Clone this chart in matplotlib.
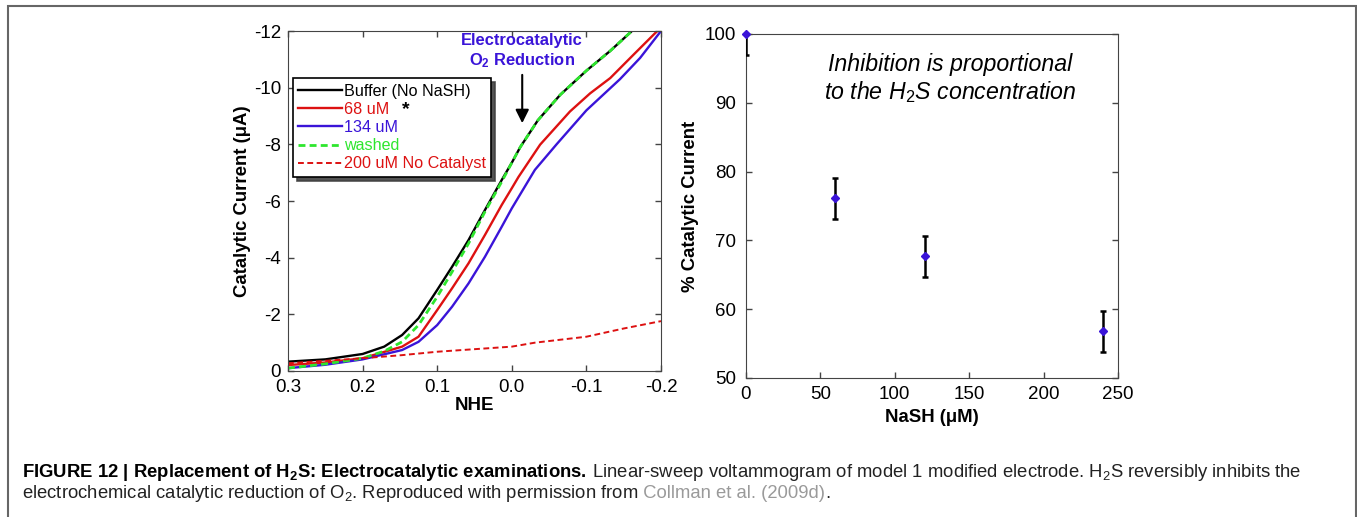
import matplotlib
matplotlib.use("Agg")
import matplotlib.pyplot as plt
from matplotlib.patches import Rectangle

plt.rcParams["font.family"] = ["Liberation Sans", "DejaVu Sans"]
plt.rcParams["axes.unicode_minus"] = False
plt.rcParams["mathtext.fontset"] = "custom"
plt.rcParams["mathtext.rm"] = "Liberation Sans"
plt.rcParams["mathtext.it"] = "Liberation Sans:italic"
plt.rcParams["mathtext.bf"] = "Liberation Sans:bold"

# left panel: linear sweep voltammograms (potential vs NHE, current in uA)
buffer_x = [0.3, 0.25, 0.2, 0.171, 0.147, 0.125, 0.1, 0.08, 0.058, 0.036, 0.0135, 0.0,
            -0.0113, -0.035, -0.065, -0.1, -0.132, -0.161]
buffer_y = [-0.33, -0.41, -0.6, -0.86, -1.27, -1.86, -2.86, -3.68, -4.62, -5.68, -6.74, -7.35,
            -7.9, -8.85, -9.75, -10.6, -11.3, -12.0]

washed_x = buffer_x
washed_y = [-0.1, -0.25, -0.45, -0.7, -1.03, -1.62, -2.62, -3.5, -4.5, -5.62, -6.68, -7.35,
            -7.9, -8.85, -9.75, -10.6, -11.3, -12.0]

uM68_x = [0.3, 0.25, 0.2, 0.147, 0.125, 0.1, 0.08, 0.058, 0.036, 0.0135, 0.0, -0.009,
          -0.038, -0.078, -0.105, -0.132, -0.163, -0.195]
uM68_y = [-0.21, -0.3, -0.45, -0.86, -1.21, -2.15, -2.92, -3.8, -4.8, -5.86, -6.45, -6.85,
          -7.99, -9.16, -9.8, -10.34, -11.16, -12.0]

uM134_x = [0.3, 0.25, 0.2, 0.147, 0.125, 0.1, 0.08, 0.058, 0.036, 0.0135, 0.0, -0.031,
           -0.06, -0.1, -0.145, -0.172, -0.2]
uM134_y = [-0.1, -0.22, -0.41, -0.74, -1.03, -1.62, -2.27, -3.09, -4.03, -5.09, -5.74, -7.1,
           -8.0, -9.2, -10.3, -11.05, -12.0]

nocat_x = [0.3, 0.25, 0.2, 0.147, 0.1, 0.0, -0.031, -0.1, -0.15, -0.2]
nocat_y = [-0.27, -0.36, -0.45, -0.56, -0.68, -0.86, -1.0, -1.21, -1.5, -1.76]

# right panel: % catalytic current vs NaSH
nash = [0, 60, 120, 240]
pct = [100, 76.1, 67.7, 56.8]
pct_err = [3, 3, 3, 3]

RED = "#dd1111"
BLUE = "#3a14d8"
GREEN = "#2ee62e"
SPINE = "#444444"
TICK = 13.5

fig = plt.figure(figsize=(13.57, 5.17), dpi=100)

# ---- left panel
ax1 = fig.add_axes([0.2122, 0.2824, 0.2749, 0.6576])
ax1.plot(buffer_x, buffer_y, color="black", lw=1.7, label="Buffer (No NaSH)")
ax1.plot(uM68_x, uM68_y, color=RED, lw=1.7, label="68 uM")
ax1.plot(uM134_x, uM134_y, color=BLUE, lw=1.7, label="134 uM")
ax1.plot(washed_x, washed_y, color=GREEN, lw=2.0, ls=(0, (2.5, 1.5)), label="washed")
ax1.plot(nocat_x, nocat_y, color=RED, lw=1.4, ls=(0, (3, 1.8)), label="200 uM No Catalyst")

ax1.set_xlim(0.3, -0.2)
ax1.set_ylim(0, -12)
ax1.set_xticks([0.3, 0.2, 0.1, 0.0, -0.1, -0.2])
ax1.set_xticklabels(["0.3", "0.2", "0.1", "0.0", "-0.1", "-0.2"])
ax1.set_yticks([0, -2, -4, -6, -8, -10, -12])
ax1.tick_params(direction="in", length=4, width=1, labelsize=TICK, colors=SPINE,
                labelcolor="black", top=True, right=True)
ax1.tick_params(axis="y", pad=5)
ax1.tick_params(axis="x", pad=5.5)
for s in ax1.spines.values():
    s.set_color(SPINE)
ax1.set_xlabel("NHE", fontsize=13.5, fontweight="bold", labelpad=1)
ax1.set_ylabel("Catalytic Current (\u03bcA)", fontsize=13.4, fontweight="bold", labelpad=2)

leg = ax1.legend(loc="upper left", bbox_to_anchor=(0.013, 0.862), fontsize=11.6,
                 frameon=True, fancybox=False, edgecolor="black",
                 shadow={"color": "0.25", "alpha": 0.9, "ox": 3, "oy": -3},
                 handlelength=2.7, handletextpad=0.1, labelspacing=0.2,
                 borderpad=0.35, borderaxespad=0)
leg.get_frame().set_linewidth(1.2)
for txt, col in zip(leg.get_texts(), ["black", RED, BLUE, GREEN, RED]):
    txt.set_color(col)
ax1.text(0.315, 0.768, "*", transform=ax1.transAxes, fontsize=14, fontweight="bold",
         ha="center", va="center", zorder=10)

ax1.text(-0.014, -11.65, "Electrocatalytic", color=BLUE, fontsize=11.9,
         fontweight="bold", ha="center", va="center")
ax1.text(-0.014, -10.94, r"O$_\mathbf{2}$ Reduction", color=BLUE, fontsize=11.9,
         fontweight="bold", ha="center", va="center")
ax1.annotate("", xy=(-0.014, -8.65), xytext=(-0.014, -10.55),
             arrowprops=dict(arrowstyle="-|>", color="black", lw=1.5, mutation_scale=20))

# ---- right panel
ax2 = fig.add_axes([0.5497, 0.2689, 0.2742, 0.6654])
ax2.errorbar(nash, pct, yerr=pct_err, fmt="none", ecolor="black", elinewidth=1.8,
             capsize=2.5, capthick=1.8, zorder=3)
ax2.plot(nash, pct, "D", color=BLUE, markersize=4.5, clip_on=False, zorder=4)
ax2.set_xlim(0, 250)
ax2.set_ylim(50, 100)
ax2.set_xticks([0, 50, 100, 150, 200, 250])
ax2.set_yticks([50, 60, 70, 80, 90, 100])
ax2.tick_params(direction="in", length=4, width=1, labelsize=TICK, colors=SPINE,
                labelcolor="black", right=True)
ax2.tick_params(axis="y", pad=7)
ax2.tick_params(axis="x", pad=6)
for s in ax2.spines.values():
    s.set_color(SPINE)
ax2.set_xlabel("NaSH (\u03bcM)", fontsize=13.4, fontweight="bold", labelpad=4)
ax2.set_ylabel("% Catalytic Current", fontsize=13.4, fontweight="bold", labelpad=4)
ax2.text(0.548, 0.945, "Inhibition is proportional\nto the H$_2$S concentration",
         transform=ax2.transAxes, ha="center", va="top", fontsize=16.7,
         style="italic", linespacing=1.15)

# ---- outer frame
fig.patches.append(Rectangle((8 / 1357, -0.05), 1347.5 / 1357, 1.05 - 6 / 517,
                             transform=fig.transFigure, fill=False,
                             edgecolor="#666666", lw=1.5))

# ---- caption, built from pieces so bold and grey parts line up
renderer = fig.canvas.get_renderer()


def caption_line(y, pieces):
    x = 22 / 1357
    for text, kw in pieces:
        t = fig.text(x, y, text, fontsize=13.3, va="baseline", **kw)
        bb = t.get_window_extent(renderer)
        x = bb.x1 / fig.bbox.width


caption_line(1 - 477 / 517, [
    ("FIGURE 12 | Replacement of H$_\\mathbf{2}$S: Electrocatalytic examinations.",
     dict(fontweight="bold")),
    (" Linear-sweep voltammogram of model 1 modified electrode. "
     "H$_2$S reversibly inhibits the", dict(color="#222222")),
])
caption_line(1 - 498 / 517, [
    ("electrochemical catalytic reduction of O$_2$. Reproduced with permission from",
     dict(color="#222222")),
    (" Collman et al. (2009d)", dict(color="#9a9a9a")),
    (".", dict(color="#222222")),
])

fig.savefig("out.png", dpi=100)
